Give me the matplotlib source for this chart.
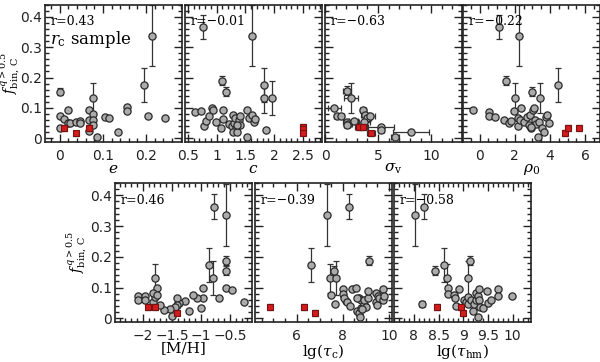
import matplotlib
matplotlib.use("Agg")
import matplotlib.pyplot as plt
from matplotlib.ticker import MultipleLocator
import numpy as np

plt.rcParams['font.family'] = ['DejaVu Serif']
plt.rcParams['mathtext.fontset'] = 'dejavuserif'

# ---------------- data ----------------
# Panel 1: e
e_x = [0.0, 0.0, 0.0, 0.009, 0.019, 0.02, 0.025, 0.038, 0.047, 0.047, 0.067, 0.067, 0.067,
       0.077, 0.078, 0.078, 0.078, 0.105, 0.115, 0.086, 0.134, 0.155, 0.155, 0.194, 0.213, 0.204, 0.244]
e_y = [0.154, 0.074, 0.035, 0.063, 0.093, 0.050, 0.050, 0.055, 0.057, 0.050, 0.093, 0.060, 0.025,
       0.132, 0.080, 0.060, 0.045, 0.071, 0.066, 0.006, 0.022, 0.102, 0.091, 0.176, 0.337, 0.074, 0.066]
e_yerr = [0.012, 0, 0, 0, 0, 0, 0, 0, 0, 0, 0, 0, 0,
          0.05, 0, 0, 0, 0, 0, 0, 0, 0, 0, 0.056, 0.1, 0, 0]
e_red_x = [0.009, 0.038, 0.067]
e_red_y = [0.035, 0.017, 0.035]
e_red_yerr = [0.01, 0.008, 0.01]

# Panel 2: c
c_x = [0.77, 1.62, 1.10, 1.17, 1.82, 1.82, 1.96, 0.62, 0.73, 0.78, 0.81, 0.87, 0.92, 0.94, 0.99,
       1.07, 1.11, 1.11, 1.22, 1.26, 1.28, 1.30, 1.32, 1.34, 1.28, 1.35, 1.39, 1.40, 1.41, 1.35,
       1.52, 1.57, 1.61, 1.64, 1.67, 1.53, 1.86]
c_y = [0.365, 0.337, 0.19, 0.154, 0.176, 0.132, 0.132, 0.085, 0.091, 0.041, 0.058, 0.074, 0.099, 0.093, 0.055,
       0.033, 0.093, 0.063, 0.047, 0.041, 0.077, 0.050, 0.066, 0.033, 0.022, 0.022, 0.060, 0.045, 0.072, 0.045,
       0.093, 0.066, 0.077, 0.055, 0.062, 0.006, 0.028]
c_yerr = [0.04, 0.1, 0.015, 0.016, 0.055, 0.05, 0.055] + [0] * 30
c_red_x = [2.5, 2.5, 2.5]
c_red_y = [0.036, 0.030, 0.018]
c_red_yerr = [0.01, 0.01, 0.008]

# Panel 3: sigma_v
s_x = [2.08, 2.45, 0.88, 1.13, 1.5, 2.1, 2.2, 2.7, 2.05, 3.55, 3.77, 3.96, 4.2, 3.7, 5.28, 5.28, 6.6, 8.1]
s_y = [0.157, 0.132, 0.099, 0.074, 0.074, 0.055, 0.047, 0.058, 0.045, 0.093, 0.077, 0.066, 0.072, 0.055,
       0.038, 0.028, 0.006, 0.022]
s_xerr = [0.4, 0.7, 0.6, 0.3, 0.3, 0.4, 0.3, 0.4, 0.3, 0.3, 0.4, 0.4, 0.5, 0.5, 1.2, 0.3, 0.4, 1.7]
s_yerr = [0.015, 0.05] + [0] * 16
s_red_x = [3.24, 3.55, 4.34]
s_red_y = [0.036, 0.036, 0.017]
s_red_xerr = [0.4, 0.4, 0.4]
s_red_yerr = [0.01, 0.01, 0.008]

# Panel 4: rho_0
r_x = [1.12, 2.23, 1.51, 4.48, 3.0, 2.0, 3.45, -0.37, 0.54, 0.54, 0.87, 1.38, 1.65, 1.8, 1.96, 2.2, 2.2,
       2.38, 2.29, 2.54, 2.68, 2.78, 2.87, 2.93, 3.06, 3.12, 3.16, 3.22, 3.31, 3.35, 3.55, 3.66, 3.8, 3.86,
       3.92, 2.93]
r_y = [0.365, 0.337, 0.19, 0.176, 0.154, 0.132, 0.132, 0.093, 0.085, 0.074, 0.071, 0.060, 0.050, 0.058,
       0.091, 0.066, 0.041, 0.099, 0.060, 0.055, 0.071, 0.045, 0.077, 0.033, 0.093, 0.099, 0.060, 0.047,
       0.006, 0.055, 0.033, 0.022, 0.071, 0.077, 0.050, 0.038]
r_yerr = [0.04, 0.1, 0.015, 0.056, 0.015, 0.05, 0.05] + [0] * 29
r_red_x = [4.87, 5.0, 5.64]
r_red_y = [0.017, 0.035, 0.035]
r_red_yerr = [0.01, 0.01, 0.01]

# Panel 5: [M/H]
m_x = [-0.78, -0.57, -0.56, -0.56, -0.86, -0.79, -1.79, -1.76, -0.56, -0.47, -0.68, -0.96, -0.97, -1.06,
       -1.14, -1.0, -1.2, -1.27, -1.37, -1.41, -1.42, -1.44, -1.53, -1.5, -1.64, -1.71, -1.83, -1.79,
       -1.83, -1.76, -2.08, -2.08, -1.97, -1.96, -0.26]
m_y = [0.363, 0.336, 0.187, 0.155, 0.173, 0.13, 0.13, 0.097, 0.100, 0.092, 0.065, 0.065, 0.097, 0.065,
       0.076, 0.032, 0.025, 0.057, 0.051, 0.065, 0.043, 0.037, 0.029, 0.007, 0.027, 0.043, 0.054, 0.068,
       0.083, 0.076, 0.072, 0.058, 0.072, 0.058, 0.054]
m_yerr = [0.04, 0.1, 0.015, 0.015, 0.056, 0.055, 0.048, 0, 0, 0, 0, 0, 0, 0, 0, 0, 0, 0, 0, 0, 0.01,
          0, 0, 0, 0, 0, 0, 0, 0, 0, 0, 0, 0, 0, 0]
m_red_x = [-1.42, -1.79, -1.91]
m_red_y = [0.018, 0.036, 0.036]
m_red_yerr = [0.008, 0.01, 0.01]

# Panel 6: lg(tau_c)
tc_x = [6.64, 7.30, 8.27, 9.12, 7.45, 7.7, 7.6, 7.51, 7.65, 8.03, 8.0, 8.13, 8.07, 8.2, 8.32, 8.38, 8.57,
        8.61, 8.7, 8.75, 8.7, 8.8, 8.62, 8.8, 8.9, 8.93, 8.99, 9.07, 9.07, 8.85, 9.43, 9.43, 9.48, 9.53,
        9.58, 9.73, 9.73, 9.77]
tc_y = [0.173, 0.336, 0.363, 0.187, 0.13, 0.13, 0.155, 0.076, 0.046, 0.094, 0.078, 0.057, 0.065, 0.052,
        0.040, 0.094, 0.097, 0.025, 0.018, 0.005, 0.065, 0.058, 0.065, 0.032, 0.046, 0.060, 0.037, 0.065,
        0.090, 0.029, 0.081, 0.052, 0.043, 0.072, 0.065, 0.094, 0.060, 0.072]
tc_yerr = [0.056, 0.1, 0.04, 0.015, 0.048, 0.055, 0.015] + [0] * 31
tc_red_x = [4.83, 6.32, 6.78]
tc_red_y = [0.036, 0.036, 0.018]
tc_red_yerr = [0.01, 0.01, 0.01]

# Panel 7: lg(tau_hm)
th_x = [8.02, 8.2, 8.16, 8.43, 8.61, 8.67, 8.69, 8.7, 8.81, 8.84, 8.86, 8.92, 9.13, 9.1, 9.01, 9.06, 9.1,
        9.1, 9.16, 9.2, 9.22, 9.25, 9.25, 9.29, 9.31, 9.32, 9.34, 9.29, 9.4, 9.48, 9.51, 9.56, 9.71,
        9.71, 9.99]
th_y = [0.336, 0.363, 0.046, 0.155, 0.173, 0.13, 0.100, 0.078, 0.076, 0.065, 0.040, 0.094, 0.187, 0.13,
        0.060, 0.054, 0.046, 0.068, 0.058, 0.025, 0.046, 0.060, 0.083, 0.072, 0.094, 0.060, 0.037, 0.005,
        0.035, 0.090, 0.051, 0.060, 0.094, 0.072, 0.072]
th_yerr = [0.1, 0.04, 0.01, 0.015, 0.056, 0.048, 0, 0, 0, 0, 0, 0, 0.015, 0.055] + [0] * 21
th_red_x = [8.47, 8.95, 9.0]
th_red_y = [0.036, 0.036, 0.016]
th_red_yerr = [0.01, 0.01, 0.01]

corr_r = ["r=0.43", "r=\u22120.01", "r=\u22120.63", "r=\u22120.22", "r=0.46", "r=\u22120.39", "r=\u22120.58"]
xlabels = [r"$e$", r"$c$", r"$\sigma_{\rm v}$", r"$\rho_0$", "[M/H]", r"lg($\tau_{\rm c}$)", r"lg($\tau_{\rm hm}$)"]

# ---------------- layout ----------------
W, H = 600, 362
fig = plt.figure(figsize=(W / 100, H / 100), dpi=100)

def px_axes(x0, x1, ytop, ybot):
    return fig.add_axes([x0 / W, 1 - ybot / H, (x1 - x0) / W, (ybot - ytop) / H])

top_lefts = [45, 185, 325, 463]
bot_lefts = [115, 255, 394]
axes = [px_axes(l, l + 137, 4.5, 142) for l in top_lefts] + [px_axes(l, l + 137, 183, 322) for l in bot_lefts]

panels = [
    (e_x, e_y, None, e_yerr, e_red_x, e_red_y, None, e_red_yerr),
    (c_x, c_y, None, c_yerr, c_red_x, c_red_y, None, c_red_yerr),
    (s_x, s_y, s_xerr, s_yerr, s_red_x, s_red_y, s_red_xerr, s_red_yerr),
    (r_x, r_y, None, r_yerr, r_red_x, r_red_y, None, r_red_yerr),
    (m_x, m_y, None, m_yerr, m_red_x, m_red_y, None, m_red_yerr),
    (tc_x, tc_y, None, tc_yerr, tc_red_x, tc_red_y, None, tc_red_yerr),
    (th_x, th_y, None, th_yerr, th_red_x, th_red_y, None, th_red_yerr),
]
xlims = [(-0.034, 0.283), (0.45, 2.83), (0.0, 12.9), (-0.95, 6.85), (-2.48, -0.12), (4.2, 10.13), (7.6, 10.37)]
majors = [0.1, 0.5, 5, 2, 0.5, 2, 0.5]
minors = [0.02, 0.1, 1, 0.5, 0.1, 0.5, 0.1]

grey_face = '#ababab'
edge = '#2a2a2a'
red_face = '#d01c1c'

for i, ax in enumerate(axes):
    x, y, xe, ye, rx, ry, rxe, rye = panels[i]
    xe_arr = None if xe is None else np.array(xe)
    ye_arr = np.array(ye)
    ax.errorbar(x, y, yerr=ye_arr, xerr=xe_arr, fmt='none', ecolor='#333333', elinewidth=0.9,
                capsize=2.2, capthick=0.9, zorder=2)
    ax.plot(x, y, 'o', ms=5.2, mfc=grey_face, mec=edge, mew=0.9, zorder=3)
    rxe_arr = None if rxe is None else np.array(rxe)
    ax.errorbar(rx, ry, yerr=np.array(rye), xerr=rxe_arr, fmt='none', ecolor='#333333', elinewidth=0.9,
                capsize=2.2, capthick=0.9, zorder=4)
    ax.plot(rx, ry, 's', ms=5.0, mfc=red_face, mec='#7a1010', mew=0.8, zorder=5)

    ax.set_xlim(*xlims[i])
    ax.set_ylim(-0.012, 0.44)
    ax.xaxis.set_major_locator(MultipleLocator(majors[i]))
    ax.xaxis.set_minor_locator(MultipleLocator(minors[i]))
    ax.yaxis.set_major_locator(MultipleLocator(0.1))
    ax.yaxis.set_minor_locator(MultipleLocator(0.02))
    ax.tick_params(which='both', direction='in', top=True, right=True, width=1.0, colors='#222222')
    ax.tick_params(which='major', length=6, labelsize=10)
    ax.tick_params(axis='x', which='major', pad=5)
    ax.tick_params(axis='y', which='major', pad=2)
    ax.tick_params(which='minor', length=3)
    for sp in ax.spines.values():
        sp.set_linewidth(1.2)
        sp.set_color('#222222')
    ax.xaxis.set_major_formatter(matplotlib.ticker.FuncFormatter(
        lambda v, p: ('%g' % round(v, 3)).replace('-', '\u2212')))
    ax.yaxis.set_major_formatter(matplotlib.ticker.FuncFormatter(lambda v, p: '%g' % round(v, 3)))
    for lab in ax.get_xticklabels() + ax.get_yticklabels():
        lab.set_family('DejaVu Sans')
    if i not in (0, 4):
        ax.tick_params(axis='y', labelleft=False)
    ax.set_xlabel(xlabels[i], fontsize=11, labelpad=-1)
    ax.text(0.04, 0.875, corr_r[i], transform=ax.transAxes, fontsize=9, ha='left', va='center')

axes[0].text(0.04, 0.745, r"$r_{\rm c}$ sample", transform=axes[0].transAxes, fontsize=12,
             ha='left', va='center')

ylab = r"$f_{\rm bin,\,C}^{q>0.5}$"
axes[0].set_ylabel(ylab, fontsize=10)
axes[0].yaxis.set_label_coords(-0.17, 0.5)
axes[4].set_ylabel(ylab, fontsize=10)
axes[4].yaxis.set_label_coords(-0.19, 0.5)

fig.savefig("out.png", dpi=100)
